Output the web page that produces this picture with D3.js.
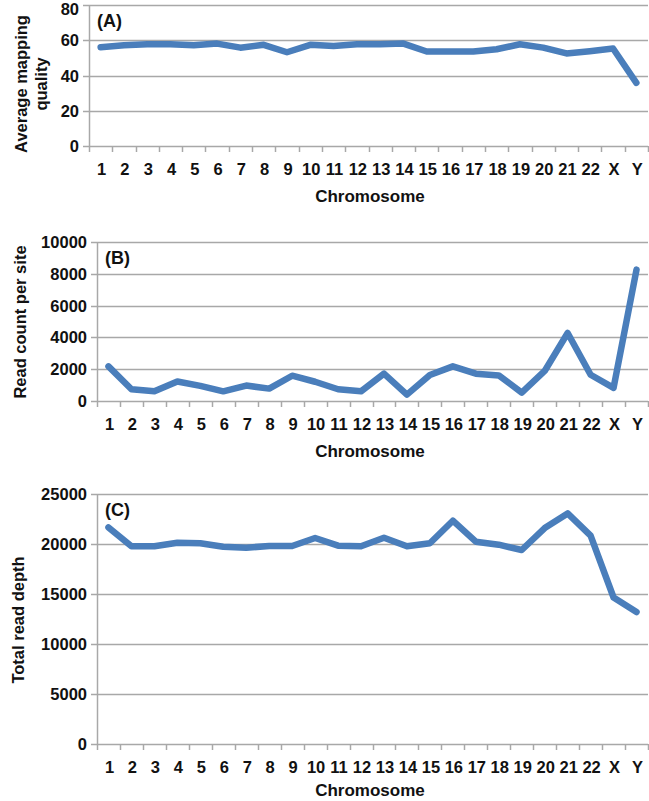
<!DOCTYPE html>
<html>
<head>
<meta charset="utf-8">
<script src="https://cdn.jsdelivr.net/npm/d3@7"></script>
<style>
  body { margin: 0; background: #fff; }
  text { font-family: "Liberation Sans", Arial, sans-serif; font-weight: bold; fill: #111; }
</style>
</head>
<body>
<div id="chart"></div>
<script>
// chromosome names along x
var chromosomes = ["1","2","3","4","5","6","7","8","9","10","11","12","13","14","15","16","17","18","19","20","21","22","X","Y"];

// (A) average mapping quality
var mappingQuality = [56.0,57.2,57.7,57.7,57.2,58.1,55.8,57.4,53.2,57.4,56.8,57.7,57.7,58.1,53.6,53.6,53.6,54.9,57.7,55.8,52.5,53.8,55.3,35.8];
var ticksA = [0,20,40,60,80];

// (B) read count per site
var readCount = [2180,740,610,1230,950,610,970,780,1590,1210,740,610,1720,400,1630,2180,1720,1610,530,1890,4280,1650,830,8260];
var ticksB = [0,2000,4000,6000,8000,10000];

// (C) total read depth
var readDepth = [21660,19770,19770,20130,20070,19730,19630,19800,19800,20600,19830,19770,20630,19770,20070,22330,20230,19930,19400,21590,23060,20830,14650,13190];
var ticksC = [0,5000,10000,15000,20000,25000];

var svg = d3.select("#chart").append("svg")
    .attr("width", 649)
    .attr("height", 801);

var lineColor = "#4a7ebb";
var gridColor = "#a8a8a8";

function drawPanel(cfg) {
    var x = d3.scaleBand().domain(chromosomes).range([cfg.left, 648]);
    var y = d3.scaleLinear().domain([0, cfg.max]).range([cfg.bottom, cfg.top]);

    var g = svg.append("g");

    // horizontal gridlines with small tick to the left
    g.selectAll(".grid").data(cfg.ticks).enter().append("line")
        .attr("x1", cfg.left - 6)
        .attr("x2", 648)
        .attr("y1", function(d){ return Math.round(y(d)) + 0.5; })
        .attr("y2", function(d){ return Math.round(y(d)) + 0.5; })
        .attr("stroke", gridColor)
        .attr("stroke-width", 1.5);

    // y axis line
    g.append("line")
        .attr("x1", cfg.left + 0.5).attr("x2", cfg.left + 0.5)
        .attr("y1", cfg.top).attr("y2", cfg.bottom)
        .attr("stroke", gridColor)
        .attr("stroke-width", 1.5);

    // category ticks below the axis
    var bounds = chromosomes.map(function(c){ return x(c); }).concat([648]);
    g.selectAll(".xtick").data(bounds).enter().append("line")
        .attr("x1", function(d){ return Math.round(d) + 0.5; })
        .attr("x2", function(d){ return Math.round(d) + 0.5; })
        .attr("y1", cfg.bottom)
        .attr("y2", cfg.bottom + 6)
        .attr("stroke", gridColor)
        .attr("stroke-width", 1.5);

    // y tick labels (keep the top one inside the picture)
    g.selectAll(".ylab").data(cfg.ticks).enter().append("text")
        .attr("x", cfg.left - 10)
        .attr("y", function(d){ return Math.max(y(d) + 6, 15); })
        .attr("text-anchor", "end")
        .attr("font-size", 16.5)
        .text(function(d){ return d; });

    // x tick labels
    g.selectAll(".xlab").data(chromosomes).enter().append("text")
        .attr("x", function(d){ return x(d) + x.bandwidth() / 2 + 1; })
        .attr("y", cfg.bottom + 29)
        .attr("text-anchor", "middle")
        .attr("font-size", 16.5)
        .text(function(d){ return d; });

    // x axis title
    g.append("text")
        .attr("x", 370)
        .attr("y", Math.min(cfg.bottom + 56, 796))
        .attr("text-anchor", "middle")
        .attr("font-size", 17)
        .text("Chromosome");

    // y axis title (one or two lines)
    var yt = g.append("text")
        .attr("transform", "translate(" + cfg.titleX + "," + cfg.titleY + ") rotate(-90)")
        .attr("text-anchor", "middle")
        .attr("font-size", 16.5);
    cfg.title.forEach(function(t, i) {
        yt.append("tspan")
            .attr("x", 0)
            .attr("dy", i == 0 ? 0 : 20)
            .text(t);
    });

    // panel letter
    g.append("text")
        .attr("x", cfg.left + 8)
        .attr("y", cfg.top + 22)
        .attr("font-size", 18)
        .text(cfg.letter);

    // the data line
    var line = d3.line()
        .x(function(d, i){ return x(chromosomes[i]) + x.bandwidth() / 2; })
        .y(function(d){ return y(d); });

    g.append("path")
        .datum(cfg.values)
        .attr("d", line)
        .attr("fill", "none")
        .attr("stroke", lineColor)
        .attr("stroke-width", 6.5)
        .attr("stroke-linejoin", "round")
        .attr("stroke-linecap", "round");
}

drawPanel({ values: mappingQuality, ticks: ticksA, max: 80, left: 89, top: 5, bottom: 146,
    title: ["Average mapping", "quality"], titleX: 27, titleY: 84, letter: "(A)" });

drawPanel({ values: readCount, ticks: ticksB, max: 10000, left: 97, top: 242, bottom: 401,
    title: ["Read count per site"], titleX: 26, titleY: 322, letter: "(B)" });

drawPanel({ values: readDepth, ticks: ticksC, max: 25000, left: 97, top: 494, bottom: 744,
    title: ["Total read depth"], titleX: 24, titleY: 620, letter: "(C)" });
</script>
</body>
</html>
